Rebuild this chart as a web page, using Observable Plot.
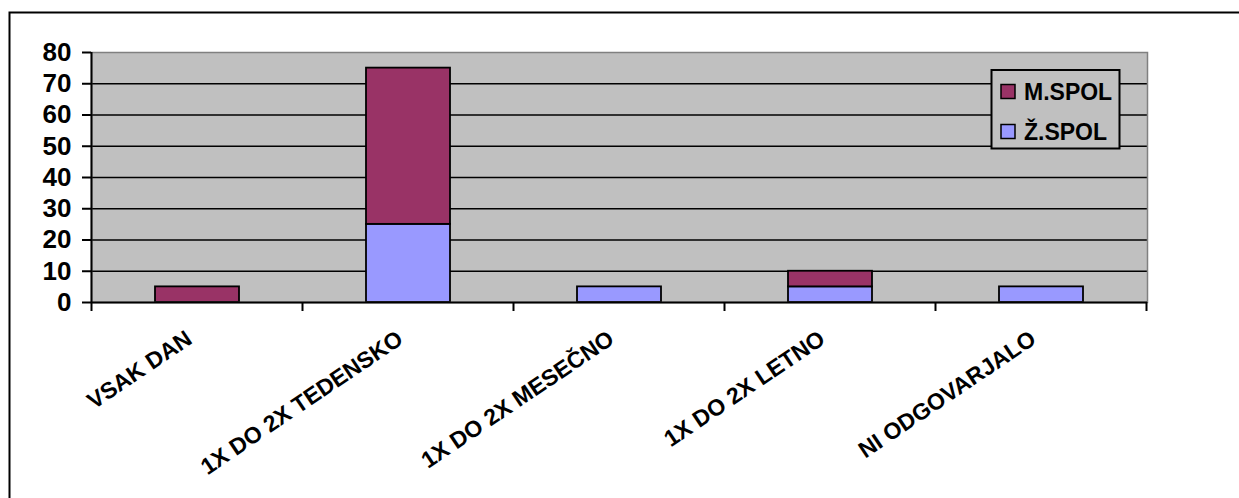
<!DOCTYPE html>
<html><head><meta charset="utf-8">
<script src="https://cdn.jsdelivr.net/npm/d3@7"></script>
<script src="https://cdn.jsdelivr.net/npm/@observablehq/plot@0.6"></script>
<style>
html,body{margin:0;padding:0;background:#fff;}
svg{display:block;font-family:"Liberation Sans",Arial,sans-serif;}
</style>
</head><body><div id="chart"></div>
<script>
const categories = ["VSAK DAN","1X DO 2X TEDENSKO","1X DO 2X MESEČNO","1X DO 2X LETNO","NI ODGOVARJALO"];
const seriesNames = ["M.SPOL","Ž.SPOL"];
const mSpol = [5,50,0,5,0];
const zSpol = [0,25,5,5,5];
const yTicks = [0,10,20,30,40,50,60,70,80];
const gridTicks = [10,20,30,40,50,60,70];
const colors = ["#993366","#9999FF"];

// Ž.SPOL rows first so it stacks at the bottom
const rows = [];
categories.forEach((c,i)=>{ if (zSpol[i]) rows.push({cat:c, sex:seriesNames[1], value:zSpol[i]}); });
categories.forEach((c,i)=>{ if (mSpol[i]) rows.push({cat:c, sex:seriesNames[0], value:mSpol[i]}); });

const FONT = "'Liberation Sans', Arial, sans-serif";
const plot = Plot.plot({
  width: 1239, height: 498,
  marginLeft: 91, marginRight: 92, marginTop: 52, marginBottom: 196,
  style: {fontFamily: FONT, fontSize: "23px", fontWeight: "bold", color: "#000", background: "transparent", overflow: "visible"},
  x: {domain: categories, paddingInner: 0.6, paddingOuter: 0.3, axis: null},
  y: {domain: [0, 80], axis: null},
  color: {domain: seriesNames, range: colors},
  marks: [
    Plot.frame({fill: "#C0C0C0", stroke: null}),
    Plot.ruleY(gridTicks, {stroke: "#000", strokeWidth: 1.6}),
    Plot.barY(rows, {x: "cat", y: "value", fill: "sex", stroke: "#000", strokeWidth: 1.8}),
    Plot.frame({stroke: "#808080", strokeWidth: 1.5, fill: null}),
    Plot.axisY({ticks: yTicks, label: null, tickSize: 9, tickPadding: 11, strokeWidth: 2, fontSize: 26, fontWeight: "bold", fontFamily: FONT}),
    Plot.ruleY([0], {stroke: "#000", strokeWidth: 2}),
    Plot.text(categories, {x: d => d, frameAnchor: "bottom", textAnchor: "end", lineAnchor: "bottom", rotate: -34, dy: 40, dx: -4, fontSize: 23, fontWeight: "bold", fontFamily: FONT, fill: "#000"})
  ]
});
document.getElementById("chart").appendChild(plot);

const svg = d3.select(plot);
const xs = plot.scale("x"), ys = plot.scale("y");
const y0 = ys.apply(0), yTop = ys.apply(80);
const step = xs.step, bw = xs.bandwidth;
const bounds = categories.map(c => xs.apply(c) - (step - bw) / 2);
bounds.push(xs.apply(categories[categories.length - 1]) + bw + (step - bw) / 2);

// left axis line and category boundary ticks
svg.append("line").attr("x1", bounds[0]).attr("x2", bounds[0]).attr("y1", yTop).attr("y2", y0)
  .attr("stroke", "#000").attr("stroke-width", 2);
bounds.forEach(b => svg.append("line").attr("x1", b).attr("x2", b).attr("y1", y0).attr("y2", y0 + 9)
  .attr("stroke", "#000").attr("stroke-width", 2));

// legend
const cs = plot.scale("color");
const lg = svg.append("g").attr("font-family", FONT).attr("font-size", 23).attr("font-weight", "bold").attr("text-anchor", "start");
lg.append("rect").attr("x", 991.5).attr("y", 70).attr("width", 128).attr("height", 78.5)
  .attr("fill", "#C0C0C0").attr("stroke", "#000").attr("stroke-width", 2);
cs.domain.forEach((name, i) => {
  const yy = 84.5 + i * 40;
  lg.append("rect").attr("x", 1001).attr("y", yy).attr("width", 14).attr("height", 14)
    .attr("fill", cs.range[i]).attr("stroke", "#000").attr("stroke-width", 1.5);
  lg.append("text").attr("x", 1024).attr("y", yy + 15.5).attr("fill", "#000").attr("text-anchor", "start").text(name);
});

// outer chart frame
svg.append("rect").attr("x", 9.5).attr("y", 12.5).attr("width", 1300).attr("height", 600)
  .attr("fill", "none").attr("stroke", "#000").attr("stroke-width", 2);
</script>
</body></html>
